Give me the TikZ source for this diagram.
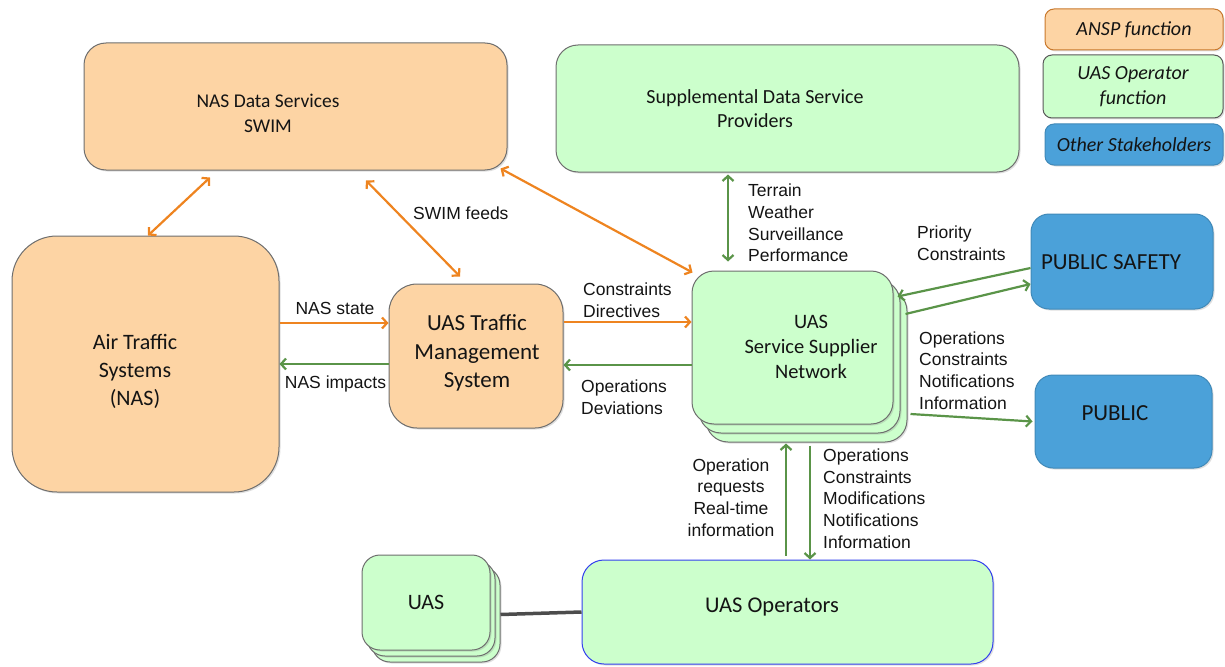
\documentclass[tikz,border=0pt]{standalone}
\usepackage{fontspec}
\setmainfont{Carlito}
\newfontfamily\arialfont{Liberation Sans}
\usepackage{tikz}
\usetikzlibrary{
  arrows.meta,
  positioning,
  calc,
  shadows
}
\definecolor{anspfill}{HTML}{FDD4A4}
\definecolor{anspedge}{HTML}{C8782C}
\definecolor{uasfill}{HTML}{CCFFCC}
\definecolor{otherblue}{HTML}{4BA1D9}
\definecolor{boxgray}{HTML}{6E6E6E}
\definecolor{opsblue}{HTML}{3340EE}
\definecolor{arrorange}{HTML}{EE8420}
\definecolor{arrgreen}{HTML}{5A9448}
\definecolor{txtdark}{HTML}{141414}

\begin{document}
\begin{tikzpicture}[x=1pt, y=-1pt,
  >={Straight Barb[length=5pt, width=11pt]},
  box/.style={draw=boxgray, line width=1pt, rounded corners=22pt, inner sep=0pt,
              align=center, text=txtdark, font=\fontsize{22}{28}\selectfont,
              drop shadow={shadow xshift=1.5pt, shadow yshift=-1.5pt, opacity=0.25}},
  ansp/.style={box, fill=anspfill},
  uasop/.style={box, fill=uasfill},
  other/.style={box, fill=otherblue, draw=otherblue!85!black},
  legend/.style={rounded corners=9pt, minimum width=178pt,
                 font=\fontsize{20}{25}\selectfont\itshape},
  txt/.style={align=center, text=txtdark, inner sep=0pt},
  lbl/.style={font=\arialfont\fontsize{17.5}{21.7}\selectfont, align=left,
              text=txtdark, inner sep=0pt},
  oarr/.style={line width=2.2pt, arrorange},
  garr/.style={line width=2.2pt, arrgreen},
  link/.style={line width=3.5pt, gray!60!black},
]
  \useasboundingbox (0,0) rectangle (1225,666);

  % Legend
  \node[ansp, legend, draw=anspedge, minimum height=41pt] (lgansp) at (1134,29.5) {ANSP function};
  \node[uasop, legend, draw=gray!70!black, minimum width=180pt, minimum height=63pt] (lguas)
    at (1133,86.5) {UAS Operator\\function};
  \node[other, legend, minimum height=41pt] (lgoth) at (1134,144.5) {Other Stakeholders};

  % Data services
  \node[ansp, minimum width=423pt, minimum height=127pt] (nds) at (295.5,106.5) {};
  \node[txt, font=\fontsize{19.5}{25}\selectfont] (ndstxt) at (268,113)
    {NAS Data Services\\SWIM};
  \node[uasop, minimum width=463pt, minimum height=127pt] (sdsp) at (787.5,108.5) {};
  \node[txt, font=\fontsize{20}{24}\selectfont] (sdsptxt) at (755,109)
    {Supplemental Data Service\\Providers};

  % ANSP side
  \node[ansp, rounded corners=45pt, minimum width=267pt, minimum height=256pt] (ats)
    at (145.5,364) {};
  \node[txt, font=\fontsize{22}{28}\selectfont] (atstxt) at (135,371)
    {Air Traffic\\Systems\\(NAS)};
  \node[ansp, rounded corners=28pt, minimum width=174pt, minimum height=144pt] (utm)
    at (476,356) {};
  \node[txt, font=\fontsize{23}{28.5}\selectfont] (utmtxt) at (477,353)
    {UAS Traffic\\Management\\System};

  % Service supplier network (stacked)
  \node[uasop, minimum width=201pt, minimum height=153pt] (ssn3) at (806.5,365.5) {};
  \node[uasop, minimum width=201pt, minimum height=153pt] (ssn2) at (799.5,356.5) {};
  \node[uasop, minimum width=201pt, minimum height=153pt] (ssn) at (792.5,347.5) {};
  \node[txt, font=\fontsize{20.5}{25}\selectfont] (ssntxt) at (811,347)
    {UAS\\Service Supplier\\Network};

  % Other stakeholders
  \node[other, rounded corners=18pt, minimum width=182pt, minimum height=95pt] (psafe)
    at (1122,261.5) {};
  \node[txt, font=\fontsize{23}{28}\selectfont] (psafetxt) at (1111,262) {PUBLIC SAFETY};
  \node[other, rounded corners=18pt, minimum width=177pt, minimum height=93pt] (pub)
    at (1123.5,421.5) {};
  \node[txt, font=\fontsize{23}{28}\selectfont] (pubtxt) at (1115,413) {PUBLIC};

  % Operators and vehicles
  \node[uasop, draw=opsblue, minimum width=411pt, minimum height=104pt] (ops) at (787.5,612) {};
  \node[txt, font=\fontsize{22.5}{28}\selectfont] (opstxt) at (772,607) {UAS Operators};
  \node[uasop, rounded corners=18pt, minimum width=128pt, minimum height=95pt] (uas3) at (436,614.5) {};
  \node[uasop, rounded corners=18pt, minimum width=128pt, minimum height=95pt] (uas2) at (431,608.5) {};
  \node[uasop, rounded corners=18pt, minimum width=128pt, minimum height=95pt] (uas) at (426,602.5) {UAS};
  \draw[link] (uas3.east) -- (ops.west);

  % SWIM arrows
  \draw[oarr, <->] ([xshift=2.5pt]ats.north) -- ([shift={(-85.5pt,-7pt)}]nds.south);
  \draw[oarr, <->] ([shift={(70.5pt,-10pt)}]nds.south) -- ([shift={(-16pt,7pt)}]utm.north);
  \draw[oarr, <->] ([shift={(-7pt,2pt)}]nds.south east) -- ([shift={(1pt,-2pt)}]ssn.north west);
  \node[lbl, anchor=west] (lswim) at (413,213) {SWIM feeds};

  % NAS <-> UTM
  \draw[oarr, ->] ([yshift=41pt]ats.east) -- ([yshift=41pt]ats.east -| utm.west);
  \draw[garr, ->] ([yshift=-8pt]utm.west) -- ([yshift=-8pt]utm.west -| ats.east);
  \node[lbl] (lnasst) at (335,308) {NAS state};
  \node[lbl] (lnasimp) at (335.5,384) {NAS impacts};

  % UTM <-> SSN
  \draw[oarr, ->] ([yshift=34pt]utm.east) -- ([yshift=34pt]utm.east -| ssn.west);
  \draw[garr, ->] ([yshift=-17.5pt]ssn.west) -- ([yshift=-17.5pt]ssn.west -| utm.east);
  \node[lbl, anchor=west] (lcons) at (583,300) {Constraints\\Directives};
  \node[lbl, anchor=west] (lopdev) at (581,397) {Operations\\Deviations};

  % Supplemental data
  \draw[garr, <->] ([xshift=-59.5pt, yshift=-2pt]sdsp.south) -- ([xshift=-64.5pt, yshift=9pt]ssn.north);
  \node[lbl, anchor=west] (lterr) at (748,223) {Terrain\\Weather\\Surveillance\\Performance};

  % Public safety and public
  \draw[garr, ->] ([yshift=-6.5pt]psafe.west) -- ([shift={(-10pt,-8pt)}]ssn3.north east);
  \draw[garr, ->] ([shift={(-2pt,51.5pt)}]ssn3.east) -- ([yshift=-22.5pt]psafe.west);
  \node[lbl, anchor=west] (lprio) at (917,243) {Priority\\Constraints};
  \draw[garr, ->] ([shift={(3pt,-48.5pt)}]ssn3.east) -- ([xshift=-2pt]pub.west);
  \node[lbl, anchor=west] (lpub) at (919,370.5) {Operations\\Constraints\\Notifications\\Information};

  % Operators <-> SSN
  \draw[garr, ->] ([shift={(-1.5pt,4pt)}]ops.north) -- ([shift={(-20.5pt,-1pt)}]ssn3.south);
  \draw[garr, ->] ([shift={(3.5pt,-3pt)}]ssn3.south) -- ([xshift=22.5pt]ops.north);
  \node[lbl, align=center] (lreq) at (731,497.5) {Operation\\requests\\Real-time\\information};
  \node[lbl, anchor=west] (lops) at (823,498.5)
    {Operations\\Constraints\\Modifications\\Notifications\\Information};

\end{tikzpicture}
\end{document}
